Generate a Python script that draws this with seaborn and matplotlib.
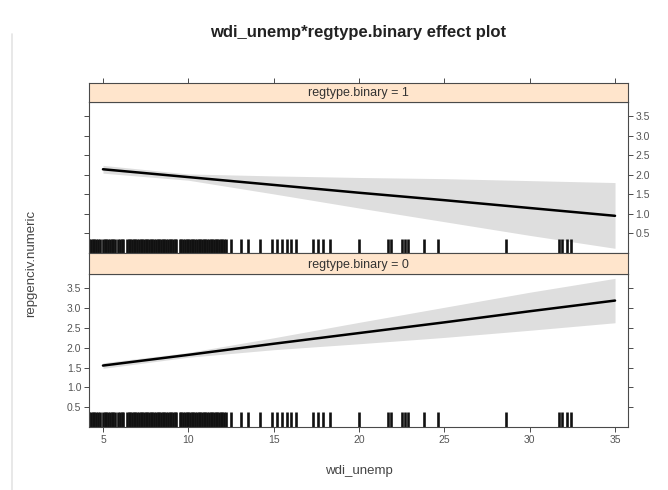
import numpy as np
import pandas as pd
import matplotlib
matplotlib.use('Agg')
import matplotlib.pyplot as plt
from matplotlib.lines import Line2D
import seaborn as sns

# effect estimates, per level of regtype.binary
unemp_grid = [5, 10, 15, 20, 25, 30, 35]

fit_reg1 = [2.14, 1.94, 1.74, 1.54, 1.35, 1.15, 0.95]
lower_reg1 = [2.04, 1.86, 1.51, 1.15, 0.80, 0.45, 0.12]
upper_reg1 = [2.24, 2.02, 1.97, 1.93, 1.90, 1.85, 1.80]

fit_reg0 = [1.55, 1.82, 2.10, 2.37, 2.64, 2.92, 3.19]
lower_reg0 = [1.48, 1.76, 1.95, 2.10, 2.26, 2.44, 2.63]
upper_reg0 = [1.62, 1.88, 2.25, 2.64, 3.02, 3.40, 3.75]

# observed wdi_unemp values (rug)
rug_unemp = [4.2, 4.3, 4.4, 4.5, 4.6, 4.7, 4.8, 5.0, 5.1, 5.2, 5.3, 5.4, 5.5, 5.6, 5.7,
             5.9, 6.0, 6.1, 6.2, 6.4, 6.5, 6.6, 6.7, 6.8, 6.9, 7.0, 7.1, 7.2, 7.3, 7.4,
             7.5, 7.6, 7.7, 7.8, 7.9, 8.0, 8.1, 8.2, 8.3, 8.4, 8.5, 8.6, 8.7, 8.8, 8.9,
             9.0, 9.1, 9.2, 9.3, 9.5, 9.6, 9.7, 9.8, 9.9, 10.0, 10.1, 10.2, 10.3, 10.4,
             10.5, 10.6, 10.7, 10.8, 10.9, 11.0, 11.1, 11.2, 11.3, 11.4, 11.5, 11.6,
             11.7, 11.8, 11.9, 12.0, 12.1, 12.2,
             12.5, 13.1, 13.5, 14.2, 14.9, 15.2, 15.5, 15.8, 16.0, 16.3, 17.3, 17.6,
             17.9, 18.3, 20.0, 21.7, 21.9, 22.5, 22.7, 22.9, 23.8, 24.6, 28.6, 31.7,
             31.9, 32.2, 32.4]

x_ticks = [5, 10, 15, 20, 25, 30, 35]
y_ticks = [0.5, 1.0, 1.5, 2.0, 2.5, 3.0, 3.5]

sns.set_style('ticks')
plt.rcParams['font.family'] = ['Liberation Sans', 'DejaVu Sans']

fig = plt.figure(figsize=(6.68, 4.90), dpi=100)

XLIM = (4.18, 35.76)
YLIM = (0.0, 3.86)
frame = '#4a4a4a'
left, width = 0.1332, 0.8069

def style_frame(ax):
    for s in ax.spines.values():
        s.set_color(frame)
        s.set_linewidth(0.8)
    ax.tick_params(colors=frame, labelcolor='#555555', labelsize=7.5,
                   direction='out', length=3.5, width=0.7, pad=2)

def draw_panel(ax, fit, lower, upper, label_side):
    df = pd.DataFrame({'x': unemp_grid, 'fit': fit})
    ax.fill_between(unemp_grid, lower, upper, color='#dedede', lw=0)
    sns.lineplot(data=df, x='x', y='fit', ax=ax, color='black', lw=1.8)
    sns.rugplot(x=rug_unemp, ax=ax, height=0.095, color='#111111', linewidth=1.9,
                expand_margins=False)
    ax.set_xlim(*XLIM)
    ax.set_ylim(*YLIM)
    ax.set_yticks(y_ticks)
    ax.set_yticklabels([f'{v:.1f}' for v in y_ticks])
    ax.set_xlabel('')
    ax.set_ylabel('')
    ax.tick_params(axis='y', left=True, right=True,
                   labelleft=(label_side == 'left'), labelright=(label_side == 'right'))
    style_frame(ax)

def draw_strip(ax, text, top_ticks):
    ax.set_facecolor('#ffe5cc')
    ax.set_xlim(*XLIM)
    ax.set_yticks([])
    ax.text(0.5, 0.45, text, transform=ax.transAxes, ha='center', va='center',
            fontsize=9, color='#333333')
    style_frame(ax)
    if top_ticks:
        ax.set_xticks(x_ticks)
        ax.tick_params(axis='x', bottom=False, top=True, labelbottom=False, labeltop=False)
    else:
        ax.set_xticks([])

# top panel: regtype.binary = 1
ax1 = fig.add_axes([left, 0.4837, width, 0.3082])
draw_panel(ax1, fit_reg1, lower_reg1, upper_reg1, 'right')
ax1.set_xticks([])
s1 = fig.add_axes([left, 0.7918, width, 0.0398])
draw_strip(s1, 'regtype.binary = 1', True)

# bottom panel: regtype.binary = 0
ax0 = fig.add_axes([left, 0.1286, width, 0.3122])
draw_panel(ax0, fit_reg0, lower_reg0, upper_reg0, 'left')
ax0.set_xticks(x_ticks)
ax0.tick_params(axis='x', bottom=True, top=False, labelbottom=True)
s0 = fig.add_axes([left, 0.4408, width, 0.0429])
draw_strip(s0, 'regtype.binary = 0', False)

fig.text(left + width / 2, 0.933, 'wdi_unemp*regtype.binary effect plot',
         ha='center', va='center', fontsize=12, fontweight='bold', color='#222222')
fig.text(left + width / 2, 0.038, 'wdi_unemp', ha='center', va='center',
         fontsize=9.5, color='#444444')
fig.text(0.046, 0.463, 'repgenciv.numeric', ha='center', va='center',
         rotation=90, fontsize=9.5, color='#444444')

# faint screenshot edge on the left
fig.add_artist(Line2D([0.018, 0.018], [0.0, 0.93], transform=fig.transFigure,
                      color='#e4e4e4', lw=1.2))

fig.savefig('out.png', dpi=100, facecolor='white')
